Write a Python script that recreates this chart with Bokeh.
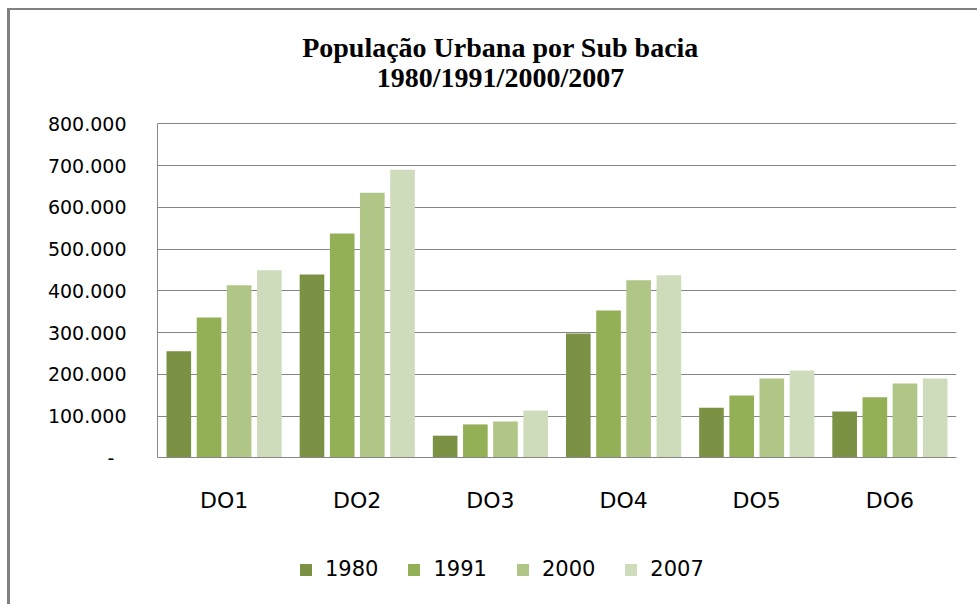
from bokeh.plotting import figure
from bokeh.models import (ColumnDataSource, FactorRange, Range1d, FixedTicker,
                          Legend, LegendItem, Label)
from bokeh.transform import dodge
from bokeh.embed import file_html
from bokeh.resources import INLINE

# Urban population per sub-basin, census years
categories = ["DO1", "DO2", "DO3", "DO4", "DO5", "DO6"]
years = ["1980", "1991", "2000", "2007"]
pop_1980 = [255000, 439000, 53000, 298000, 120000, 111000]
pop_1991 = [336000, 537000, 80000, 353000, 149000, 145000]
pop_2000 = [413000, 635000, 87000, 425000, 190000, 178000]
pop_2007 = [449000, 690000, 113000, 437000, 209000, 190000]

y_ticks = [0, 100000, 200000, 300000, 400000, 500000, 600000, 700000, 800000]
y_tick_labels = ["-\u00a0\u00a0", "100.000", "200.000", "300.000", "400.000",
                 "500.000", "600.000", "700.000", "800.000"]
y_max = 800000

title_lines = ["População Urbana por Sub bacia", "1980/1991/2000/2007"]

colors = ["#7B9143", "#94B057", "#AFC686", "#CFDCBB"]
offsets = [-0.34, -0.113, 0.113, 0.34]

source = ColumnDataSource(data=dict(
    cat=categories, y1980=pop_1980, y1991=pop_1991, y2000=pop_2000, y2007=pop_2007))

# The frame fills the whole chart height so that title and legend can sit inside it;
# the value axis spans 334 px of it (from 113 px below the top), x axis pinned at zero.
fig_h = 596
axis_top, axis_px = 113.3, 334
units_per_px = y_max / axis_px
y_top = y_max + axis_top * units_per_px
y_min = y_max - (fig_h - axis_top) * units_per_px

p = figure(
    width=970, height=fig_h,
    x_range=FactorRange(*categories, range_padding=0, factor_padding=0),
    y_range=Range1d(y_min, y_top),
    output_backend="svg", toolbar_location=None,
    min_border_left=147, min_border_right=24,
    min_border_top=0, min_border_bottom=0,
)
p.styles = {"border-left": "3px solid #808080", "border-top": "2px solid #808080",
            "margin-left": "7px", "margin-top": "8px"}

# two-line title, centred on the chart
for line, ty in zip(title_lines, [559, 529]):
    p.add_layout(Label(x=343, y=ty, x_units="screen", y_units="screen", text=line,
                       text_align="center", text_baseline="middle",
                       text_font="Liberation Serif", text_font_size="28px",
                       text_font_style="bold", text_color="#000000"))

renderers = []
for yr, col, off in zip(years, colors, offsets):
    r = p.vbar(x=dodge("cat", off, range=p.x_range), top="y" + yr, width=0.185,
               source=source, fill_color=col, line_color=None)
    renderers.append(r)

# value axis
p.yaxis.ticker = FixedTicker(ticks=y_ticks)
p.yaxis.bounds = (0, y_max)
p.yaxis.major_label_overrides = {t: lab for t, lab in zip(y_ticks, y_tick_labels)}
p.yaxis.major_label_text_font = "DejaVu Sans"
p.yaxis.major_label_text_font_size = "19px"
p.yaxis.major_label_text_color = "#000000"
p.yaxis.major_label_standoff = 25
p.yaxis.major_tick_line_color = None
p.yaxis.minor_tick_line_color = None
p.yaxis.axis_line_color = "#868686"

# category axis
p.xaxis.fixed_location = 0
p.xaxis.major_label_text_font = "DejaVu Sans"
p.xaxis.major_label_text_font_size = "22px"
p.xaxis.major_label_text_color = "#000000"
p.xaxis.major_label_standoff = 24
p.xaxis.major_tick_line_color = None
p.xaxis.axis_line_color = "#868686"

p.xgrid.grid_line_color = None
p.ygrid.grid_line_color = "#868686"
p.ygrid.grid_line_width = 1
p.outline_line_color = None

legend = Legend(
    items=[LegendItem(label=yr, renderers=[r]) for yr, r in zip(years, renderers)],
    orientation="horizontal", location=(141, 25),
    glyph_width=15, glyph_height=15, label_standoff=12, spacing=28,
    label_text_font="DejaVu Sans", label_text_font_size="21px",
    label_text_color="#000000",
    border_line_color=None, background_fill_alpha=0, padding=0, margin=0,
)
p.add_layout(legend, "center")

open("out.html", "w").write(file_html(p, INLINE))
